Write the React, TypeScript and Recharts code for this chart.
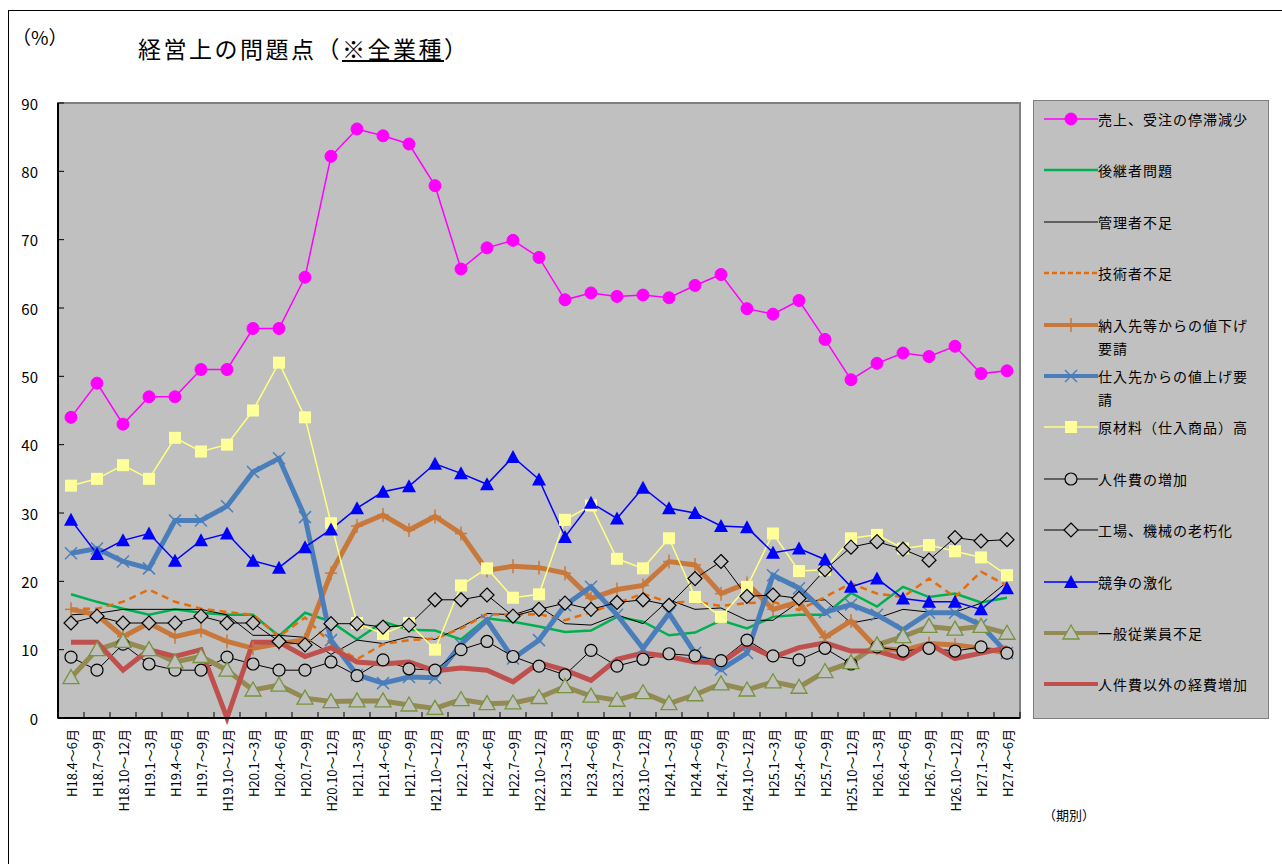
import React from "react";
import { LineChart, Line, XAxis, YAxis, CartesianGrid, ReferenceArea } from "recharts";

const periods = [
  "H18.4～6月", "H18.7～9月", "H18.10～12月", "H19.1～3月", "H19.4～6月", "H19.7～9月", "H19.10～12月",
  "H20.1～3月", "H20.4～6月", "H20.7～9月", "H20.10～12月", "H21.1～3月", "H21.4～6月", "H21.7～9月",
  "H21.10～12月", "H22.1～3月", "H22.4～6月", "H22.7～9月", "H22.10～12月", "H23.1～3月", "H23.4～6月",
  "H23.7～9月", "H23.10～12月", "H24.1～3月", "H24.4～6月", "H24.7～9月", "H24.10～12月", "H25.1～3月",
  "H25.4～6月", "H25.7～9月", "H25.10～12月", "H26.1～3月", "H26.4～6月", "H26.7～9月", "H26.10～12月",
  "H27.1～3月", "H27.4～6月",
];

const yTicks = [0, 10, 20, 30, 40, 50, 60, 70, 80, 90];

const uriage = [44, 49, 43, 47, 47, 51, 51, 57, 57, 64.5, 82.2, 86.2, 85.2, 84.0, 77.9, 65.7, 68.8, 69.9, 67.4, 61.2, 62.2, 61.7, 61.9, 61.5, 63.3, 64.9, 59.9, 59.1, 61.1, 55.4, 49.5, 51.9, 53.4, 52.9, 54.4, 50.4, 50.8];
const koukei = [18.1, 17.0, 16.0, 15.1, 15.9, 15.4, 15.1, 15.1, 12.0, 15.4, 14.1, 11.5, 14.1, 12.9, 12.8, 11.5, 14.6, 14.1, 13.4, 12.6, 12.8, 14.8, 14.1, 12.1, 12.5, 14.3, 13.1, 14.8, 15.1, 15.1, 18.3, 16.3, 19.2, 17.7, 18.2, 16.9, 17.6];
const kanri = [15.1, 15.3, 15.9, 15.9, 15.9, 15.9, 15.1, 12.1, 12.1, 11.8, 9.3, 11.4, 10.9, 11.9, 11.5, 13.3, 15.3, 15.1, 16.3, 13.8, 13.6, 15.1, 13.8, 17.3, 15.9, 16.1, 14.3, 14.3, 17.0, 17.3, 13.9, 14.6, 15.9, 15.5, 15.5, 16.8, 19.9];
const gijutsu = [16.0, 16.0, 17.0, 18.8, 17.0, 16.0, 15.5, 15.1, 11.9, 14.7, 10.9, 8.6, 10.8, 11.4, 11.6, 13.1, 15.2, 15.1, 15.2, 14.3, 15.5, 16.8, 18.2, 16.9, 17.0, 16.4, 16.8, 17.0, 15.8, 17.7, 19.7, 18.2, 17.7, 20.4, 17.7, 21.4, 19.4];
const nesage = [15.9, 15.1, 11.9, 13.9, 11.9, 12.8, 11.2, 10.2, 10.9, 11.4, 21.2, 28.1, 29.7, 27.5, 29.5, 27.0, 21.6, 22.2, 22.0, 21.2, 17.5, 18.8, 19.4, 22.9, 22.4, 18.2, 19.7, 15.9, 17.0, 11.8, 14.2, 10.2, 9.9, 10.9, 10.7, 10.2, 9.5];
const neage = [24.1, 24.8, 22.9, 21.9, 28.9, 28.9, 31.0, 36.0, 38.0, 29.4, 11.4, 6.3, 5.1, 6.0, 5.9, 10.8, 14.3, 8.7, 11.4, 16.5, 19.2, 15.1, 10.2, 15.3, 9.5, 7.1, 9.5, 20.9, 19.0, 15.5, 16.6, 15.1, 12.9, 15.4, 15.4, 13.6, 9.5];
const genzairyo = [34, 35, 37, 35, 41, 39, 40, 45, 52, 44, 28.5, 13.9, 12.3, 13.9, 10, 19.4, 21.9, 17.6, 18.1, 29.0, 31.1, 23.3, 21.9, 26.3, 17.7, 14.8, 19.2, 27.0, 21.5, 21.7, 26.3, 26.8, 24.8, 25.3, 24.4, 23.5, 20.9];
const jinkenhi = [8.9, 7.0, 10.8, 7.9, 7.0, 7.0, 8.9, 7.9, 7.0, 7.0, 8.2, 6.2, 8.5, 7.2, 7.0, 10.0, 11.2, 9.0, 7.6, 6.3, 9.9, 7.6, 8.6, 9.4, 9.1, 8.4, 11.4, 9.1, 8.5, 10.2, 7.9, 10.4, 9.8, 10.2, 9.8, 10.4, 9.5];
const roukyu = [13.9, 14.9, 13.9, 13.9, 13.9, 14.9, 13.9, 13.9, 11.2, 10.7, 13.8, 13.8, 13.3, 13.6, 17.3, 17.3, 18.0, 14.9, 15.9, 16.8, 15.9, 16.9, 17.3, 16.5, 20.4, 22.9, 17.8, 18.0, 17.5, 21.7, 25.0, 25.8, 24.7, 23.1, 26.4, 25.9, 26.1];
const kyousou = [29, 24, 26, 27, 23, 26, 27, 23, 22, 25, 27.6, 30.7, 33.1, 33.9, 37.2, 35.8, 34.2, 38.2, 34.9, 26.5, 31.5, 29.2, 33.7, 30.7, 30.0, 28.1, 27.9, 24.2, 24.8, 23.2, 19.2, 20.4, 17.5, 17.0, 17.0, 15.9, 19.0];
const ippan = [5.9, 10.0, 11.2, 10.0, 8.2, 9.0, 7.0, 4.1, 4.8, 2.9, 2.4, 2.5, 2.5, 1.9, 1.4, 2.7, 2.1, 2.2, 3.0, 4.6, 3.2, 2.6, 3.7, 2.1, 3.4, 5.0, 4.1, 5.3, 4.5, 6.8, 8.1, 10.7, 11.9, 13.4, 13.0, 13.4, 12.4];
const keihi = [11.1, 11.1, 7.0, 10.0, 9.0, 10.0, 0, 11.1, 11.1, 9.0, 10.3, 8.2, 7.9, 8.2, 6.9, 7.3, 7.0, 5.3, 8.1, 7.0, 5.5, 8.6, 9.5, 9.0, 8.2, 8.1, 10.7, 8.9, 10.3, 11.0, 9.8, 9.8, 8.7, 10.9, 8.7, 9.5, 10.3];

type Marker = "none" | "dot" | "plus" | "cross" | "square" | "ring" | "diamond" | "tri" | "triOpen";

type Series = {
  key: string;
  name: string;
  values: number[];
  color: string;
  width: number;
  dash?: string;
  marker: Marker;
  markerColor?: string;
};

const series: Series[] = [
  { key: "uriage", name: "売上、受注の停滞減少", values: uriage, color: "#ff00ff", width: 1.5, marker: "dot" },
  { key: "koukei", name: "後継者問題", values: koukei, color: "#00b050", width: 2.5, marker: "none" },
  { key: "kanri", name: "管理者不足", values: kanri, color: "#000000", width: 1, marker: "none" },
  { key: "gijutsu", name: "技術者不足", values: gijutsu, color: "#e46c0a", width: 2.5, dash: "7 5", marker: "none" },
  { key: "nesage", name: "納入先等からの値下げ\n要請", values: nesage, color: "#c8783a", width: 5, marker: "plus" },
  { key: "neage", name: "仕入先からの値上げ要\n請", values: neage, color: "#4a7ebb", width: 5, marker: "cross" },
  { key: "genzairyo", name: "原材料（仕入商品）高", values: genzairyo, color: "#ffff80", width: 1.5, marker: "square", markerColor: "#ffff99" },
  { key: "jinkenhi", name: "人件費の増加", values: jinkenhi, color: "#000000", width: 1, marker: "ring" },
  { key: "roukyu", name: "工場、機械の老朽化", values: roukyu, color: "#000000", width: 1, marker: "diamond" },
  { key: "kyousou", name: "競争の激化", values: kyousou, color: "#0000ff", width: 1.5, marker: "tri" },
  { key: "ippan", name: "一般従業員不足", values: ippan, color: "#948a54", width: 5, marker: "triOpen", markerColor: "#77933c" },
  { key: "keihi", name: "人件費以外の経費増加", values: keihi, color: "#c0504d", width: 5, marker: "none" },
];

const data = periods.map((period, i) => {
  const row: Record<string, string | number> = { period };
  series.forEach((s) => {
    row[s.key] = s.values[i];
  });
  return row;
});

const BG = "#c0c0c0";
const FONT = "'Noto Sans CJK JP', 'Noto Sans', sans-serif";

function markerShape(marker: Marker, cx: number, cy: number, color: string, key?: string | number) {
  switch (marker) {
    case "dot":
      return <circle key={key} cx={cx} cy={cy} r={6} fill={color} stroke={color} />;
    case "plus":
      return (
        <g key={key} stroke={color} strokeWidth={1.5}>
          <line x1={cx - 6} y1={cy} x2={cx + 6} y2={cy} />
          <line x1={cx} y1={cy - 7} x2={cx} y2={cy + 7} />
        </g>
      );
    case "cross":
      return (
        <g key={key} stroke={color} strokeWidth={1.5}>
          <line x1={cx - 6} y1={cy - 6} x2={cx + 6} y2={cy + 6} />
          <line x1={cx - 6} y1={cy + 6} x2={cx + 6} y2={cy - 6} />
        </g>
      );
    case "square":
      return <rect key={key} x={cx - 6} y={cy - 6} width={12} height={12} fill={color} />;
    case "ring":
      return <circle key={key} cx={cx} cy={cy} r={6} fill={BG} stroke="#000" strokeWidth={1.2} />;
    case "diamond":
      return (
        <path key={key} d={`M${cx},${cy - 7}L${cx + 7},${cy}L${cx},${cy + 7}L${cx - 7},${cy}Z`} fill={BG} stroke="#000" strokeWidth={1.2} />
      );
    case "tri":
      return <path key={key} d={`M${cx},${cy - 7}L${cx + 7},${cy + 6}L${cx - 7},${cy + 6}Z`} fill={color} />;
    case "triOpen":
      return (
        <path key={key} d={`M${cx},${cy - 8}L${cx + 8},${cy + 6}L${cx - 8},${cy + 6}Z`} fill={BG} stroke={color} strokeWidth={1.3} />
      );
    default:
      return <g key={key} />;
  }
}

function makeDot(s: Series) {
  if (s.marker === "none") return false;
  const c = s.markerColor ?? s.color;
  return (props: any) => {
    const { cx, cy, index } = props;
    if (cx == null || cy == null) return <g key={`${s.key}-${index}`} />;
    return markerShape(s.marker, cx, cy, c, `${s.key}-${index}`);
  };
}

function XTick(props: any) {
  const { x, y, payload, index } = props;
  return (
    <g>
      {index === 0 && <line x1={x - 13} y1={y} x2={x - 13} y2={y - 6} stroke="#000" />}
      <line x1={x + 13} y1={y} x2={x + 13} y2={y - 6} stroke="#000" />
      <text
        x={x}
        y={y + 11}
        transform={`rotate(-90, ${x}, ${y + 11})`}
        textAnchor="end"
        dominantBaseline="central"
        fontSize={13}
        fontFamily={FONT}
        fill="#000"
      >
        {payload.value}
      </text>
    </g>
  );
}

function YTick(props: any) {
  const { x, y, payload } = props;
  return (
    <g>
      <line x1={x} y1={y} x2={x + 6} y2={y} stroke="#000" />
      <text x={x - 20} y={y} textAnchor="end" dominantBaseline="central" fontSize={15} fontFamily={FONT} fill="#000">
        {payload.value}
      </text>
    </g>
  );
}

function LegendBox() {
  return (
    <div
      style={{
        position: "absolute",
        left: 1033,
        top: 100,
        width: 234,
        height: 617,
        background: BG,
        border: "1px solid #808080",
        fontFamily: FONT,
        fontSize: 14,
        color: "#000",
      }}
    >
      {series.map((s, i) => (
        <div key={s.key} style={{ position: "absolute", left: 0, top: 8 + i * 51.4, height: 40 }}>
          <svg width={60} height={20} style={{ position: "absolute", left: 8, top: 0 }}>
            <line x1={2} y1={10} x2={56} y2={10} stroke={s.color} strokeWidth={Math.min(s.width, 4)} strokeDasharray={s.dash ? "5 3" : undefined} />
            {s.marker !== "none" && markerShape(s.marker, 29, 10, s.markerColor ?? s.color)}
          </svg>
          <div style={{ position: "absolute", left: 64, top: 0, lineHeight: "23px", marginTop: -1, whiteSpace: "pre", letterSpacing: 1 }}>
            {s.name}
          </div>
        </div>
      ))}
    </div>
  );
}

export default function App() {
  return (
    <div style={{ position: "fixed", left: 0, top: 0, width: 1282, height: 864, background: "#fff", fontFamily: FONT, overflow: "hidden" }}>
      <div style={{ position: "absolute", left: 8, top: 10, width: 1280, height: 860, borderLeft: "1px solid #000", borderTop: "1px solid #000" }} />
      <div style={{ position: "absolute", left: 12, top: 23, fontSize: 19 }}>（%）</div>
      <div style={{ position: "absolute", left: 138, top: 31, fontSize: 23, letterSpacing: 2.5 }}>
        経営上の問題点（<span style={{ textDecoration: "underline" }}>※全業種</span>）
      </div>
      <div style={{ position: "absolute", left: 0, top: 0 }}>
        <LineChart width={1030} height={864} data={data} margin={{ top: 103, right: 10, bottom: 0, left: 0 }}>
          <CartesianGrid horizontal={false} vertical={false} fill={BG} />
          <ReferenceArea y1={0} y2={90} fill="none" stroke="#808080" strokeWidth={2} />
          <XAxis
            dataKey="period"
            scale="band"
            interval={0}
            height={146}
            tickLine={false}
            tickSize={0}
            tickMargin={0}
            axisLine={{ stroke: "#000", strokeWidth: 2 }}
            tick={<XTick />}
          />
          <YAxis
            domain={[0, 90]}
            ticks={yTicks}
            width={58}
            tickLine={false}
            tickSize={0}
            tickMargin={0}
            axisLine={{ stroke: "#000", strokeWidth: 2 }}
            tick={<YTick />}
          />
          {series.map((s) => (
            <Line
              key={s.key}
              dataKey={s.key}
              name={s.name}
              type="linear"
              stroke={s.color}
              strokeWidth={s.width}
              strokeDasharray={s.dash}
              dot={makeDot(s)}
              activeDot={false}
              isAnimationActive={false}
            />
          ))}
        </LineChart>
      </div>
      <LegendBox />
      <div style={{ position: "absolute", left: 1043, top: 805, fontSize: 13 }}>（期別）</div>
    </div>
  );
}
